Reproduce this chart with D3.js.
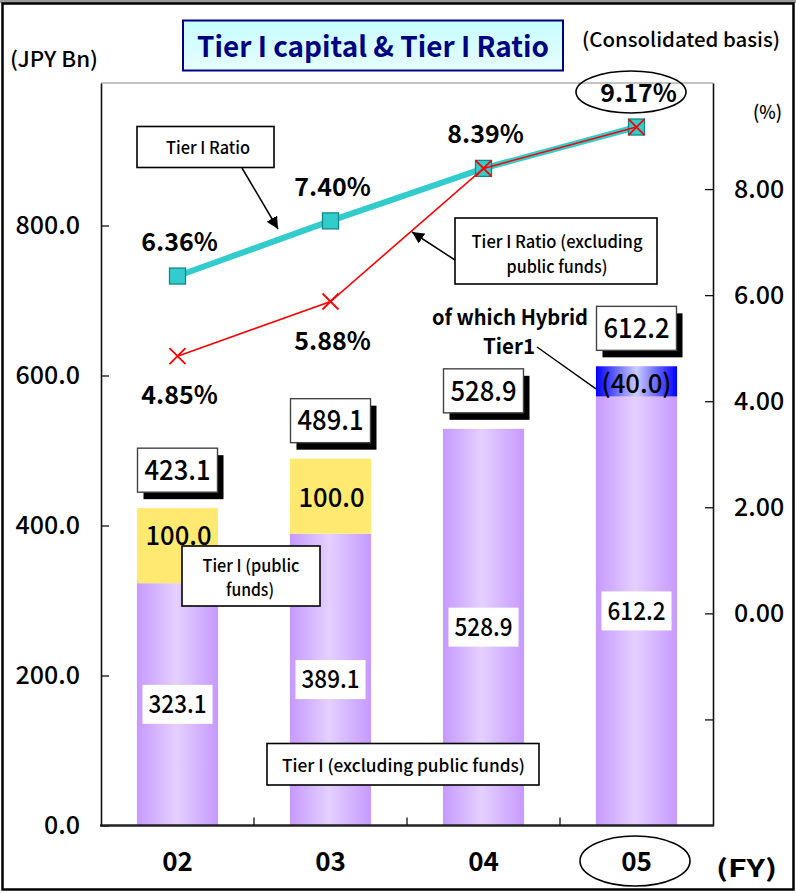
<!DOCTYPE html>
<html>
<head>
<meta charset="utf-8">
<script src="https://cdn.jsdelivr.net/npm/d3@7"></script>
<style>
  body { margin: 0; background: #fff; }
  svg { display: block; }
</style>
</head>
<body>
<div id="chart"></div>
<script>
// Fiscal years
const years = ["02", "03", "04", "05"];
// Tier I capital, JPY Bn
const tierIExclPublic = [323.1, 389.1, 528.9, 612.2];
const tierIPublic = [100.0, 100.0, 0, 0];
const hybridTier1 = [0, 0, 0, 40.0];
const tierITotal = [423.1, 489.1, 528.9, 612.2];
// Tier I ratio, %
const tierIRatio = [6.36, 7.40, 8.39, 9.17];
const tierIRatioExclPublic = [4.85, 5.88, 8.39, 9.17];
// Axis ticks
const leftTicks = [0, 200, 400, 600, 800];
const rightTicks = [-2, 0, 2, 4, 6, 8];
const rightTickLabels = [0, 2, 4, 6, 8];

const W = 796, H = 893;
const FONT = "'Noto Sans CJK JP', 'Noto Sans', sans-serif";
const plot = { left: 101, right: 713, top: 83, bottom: 825.5 };

const svg = d3.select("#chart").append("svg")
  .attr("width", W).attr("height", H).attr("viewBox", `0 0 ${W} ${H}`);

const defs = svg.append("defs");
function hGrad(id, stops) {
  const g = defs.append("linearGradient").attr("id", id)
    .attr("x1", "0%").attr("x2", "100%").attr("y1", "0%").attr("y2", "0%");
  stops.forEach(([o, c]) => g.append("stop").attr("offset", o).attr("stop-color", c));
}
hGrad("gPurple", [["0%", "#C799FF"], ["48%", "#E4D0FF"], ["100%", "#C799FF"]]);
hGrad("gBlue", [["0%", "#0000FF"], ["50%", "#CDCDFF"], ["100%", "#0000FF"]]);
const tg = defs.append("linearGradient").attr("id", "gTitle")
  .attr("x1", "0%").attr("x2", "0%").attr("y1", "0%").attr("y2", "100%");
tg.append("stop").attr("offset", "0%").attr("stop-color", "#C6FCFF");
tg.append("stop").attr("offset", "100%").attr("stop-color", "#E6FEFF");
defs.append("marker").attr("id", "arrow")
  .attr("viewBox", "0 0 10 10").attr("refX", 10).attr("refY", 5)
  .attr("markerWidth", 12).attr("markerHeight", 12)
  .attr("markerUnits", "userSpaceOnUse").attr("orient", "auto")
  .append("path").attr("d", "M0,0 L10,5 L0,10 z").attr("fill", "#000");

function label(g, str, x, y, o = {}) {
  const t = g.append("text")
    .attr("x", x).attr("y", y).attr("dy", o.dy || "0.35em")
    .attr("font-family", FONT)
    .attr("font-size", o.size || 20)
    .attr("font-weight", o.weight || 500)
    .attr("text-anchor", o.anchor || "middle")
    .attr("fill", o.fill || "#000")
    .text(str);
  if (o.width) t.attr("textLength", o.width).attr("lengthAdjust", "spacingAndGlyphs");
  return t;
}

// Outer frame
svg.append("rect").attr("x", 0).attr("y", 0).attr("width", W).attr("height", 3).attr("fill", "#9a9a9a");
svg.append("rect").attr("x", 2.5).attr("y", 3.5).attr("width", 791).attr("height", 886)
  .attr("fill", "#fff").attr("stroke", "#000").attr("stroke-width", 2.5);

// Scales
const x = d3.scaleBand().domain(years)
  .range([plot.left, plot.right]).paddingInner(0.47).paddingOuter(0.235);
const cx = d => x(d) + x.bandwidth() / 2;
const yL = d3.scaleLinear().domain([0, 990]).range([plot.bottom, plot.top]);
const yR = d3.scaleLinear().domain([-4, 10]).range([plot.bottom, plot.top]);

// Plot frame top
svg.append("line").attr("x1", plot.left).attr("x2", plot.right)
  .attr("y1", plot.top).attr("y2", plot.top).attr("stroke", "#888").attr("stroke-width", 1.2);

// Bars
const bars = svg.append("g");
years.forEach((yr, i) => {
  const base = tierIExclPublic[i];
  bars.append("rect").attr("x", x(yr)).attr("width", x.bandwidth())
    .attr("y", yL(base)).attr("height", yL(0) - yL(base)).attr("fill", "url(#gPurple)");
  if (tierIPublic[i] > 0) {
    bars.append("rect").attr("x", x(yr)).attr("width", x.bandwidth())
      .attr("y", yL(base + tierIPublic[i])).attr("height", yL(base) - yL(base + tierIPublic[i]))
      .attr("fill", "#FFE970");
  }
  if (hybridTier1[i] > 0) {
    bars.append("rect").attr("x", x(yr)).attr("width", x.bandwidth())
      .attr("y", yL(base)).attr("height", yL(base - hybridTier1[i]) - yL(base))
      .attr("fill", "url(#gBlue)");
  }
});

// Axes
const axL = svg.append("g").attr("transform", `translate(${plot.left},0)`)
  .call(d3.axisLeft(yL).tickValues(leftTicks).tickSizeInner(-8).tickSizeOuter(0)
    .tickPadding(21).tickFormat(d3.format(".1f")));
const axR = svg.append("g").attr("transform", `translate(${plot.right},0)`)
  .call(d3.axisRight(yR).tickValues(rightTicks).tickSizeInner(-8).tickSizeOuter(0)
    .tickPadding(21).tickFormat(d => rightTickLabels.includes(d) ? d3.format(".2f")(d) : ""));
[axL, axR].forEach(a => {
  a.select(".domain").attr("stroke", "#111").attr("stroke-width", 1.6);
  a.selectAll(".tick line").attr("stroke", "#111").attr("stroke-width", 1.3);
  a.selectAll(".tick text").attr("font-family", FONT).attr("font-size", 25)
    .attr("font-weight", 500).attr("fill", "#000");
});

// Category axis
const axB = svg.append("g");
axB.append("line").attr("x1", plot.left - 1).attr("x2", plot.right + 1)
  .attr("y1", plot.bottom).attr("y2", plot.bottom).attr("stroke", "#222").attr("stroke-width", 2.6);
const gap = x.step() - x.bandwidth();
years.slice(1).forEach(yr => {
  const bx = x(yr) - gap / 2;
  axB.append("line").attr("x1", bx).attr("x2", bx)
    .attr("y1", plot.bottom).attr("y2", plot.bottom - 8).attr("stroke", "#111").attr("stroke-width", 1.3);
});
years.forEach(yr => label(axB, yr, cx(yr), 862, { size: 26, weight: 700 }));

// Values inside the bars
const inner = svg.append("g");
years.forEach((yr, i) => {
  const mid = yL((tierIExclPublic[i] - hybridTier1[i]) / 2);
  inner.append("rect").attr("x", cx(yr) - 35).attr("y", mid - 19.5)
    .attr("width", 70).attr("height", 39).attr("fill", "#fff");
  label(inner, d3.format(".1f")(tierIExclPublic[i]), cx(yr), mid, { size: 25, width: 58 });
  if (tierIPublic[i] > 0) {
    const nudge = i === 0 ? -10 : 2;
    const ym = yL(tierIExclPublic[i] + tierIPublic[i] / 2) + nudge;
    label(inner, d3.format(".1f")(tierIPublic[i]), cx(yr) + 1, ym, { size: 26, width: 66 });
  }
  if (hybridTier1[i] > 0) {
    const ym = yL(tierIExclPublic[i] - hybridTier1[i] / 2) + 3;
    label(inner, `(${d3.format(".1f")(hybridTier1[i])})`, cx(yr), ym, { size: 26, width: 70 });
  }
});

// Totals above the bars, in shadowed boxes
const totals = svg.append("g");
years.forEach((yr, i) => {
  const bottom = yL(tierITotal[i]) - 16;
  const bx = cx(yr) - 40, by = bottom - 44;
  totals.append("rect").attr("x", bx + 6).attr("y", by + 7).attr("width", 80).attr("height", 44).attr("fill", "#000");
  totals.append("rect").attr("x", bx).attr("y", by).attr("width", 80).attr("height", 44)
    .attr("fill", "#fff").attr("stroke", "#444").attr("stroke-width", 1.4);
  label(totals, d3.format(".1f")(tierITotal[i]), cx(yr), by + 22, { size: 28, width: 66 });
});

// Ratio lines
const lines = svg.append("g");
const lineGen = d3.line().x((d, i) => cx(years[i])).y(d => yR(d));
lines.append("path").attr("d", lineGen(tierIRatio))
  .attr("fill", "none").attr("stroke", "#33CCCC").attr("stroke-width", 6);
tierIRatio.forEach((v, i) => {
  lines.append("rect").attr("x", cx(years[i]) - 8).attr("y", yR(v) - 8)
    .attr("width", 16).attr("height", 16)
    .attr("fill", "#33CCCC").attr("stroke", "#118888").attr("stroke-width", 1.3);
});
lines.append("path").attr("d", lineGen(tierIRatioExclPublic))
  .attr("fill", "none").attr("stroke", "#FF0000").attr("stroke-width", 1.6);
tierIRatioExclPublic.forEach((v, i) => {
  const px = cx(years[i]), py = yR(v), s = 8;
  lines.append("path")
    .attr("d", `M${px - s},${py - s}L${px + s},${py + s}M${px - s},${py + s}L${px + s},${py - s}`)
    .attr("stroke", "#FF0000").attr("stroke-width", 1.8).attr("fill", "none");
});

// Ratio value labels
const pctLabels = svg.append("g");
tierIRatio.forEach((v, i) => {
  label(pctLabels, d3.format(".2f")(v) + "%", cx(years[i]) + 2, yR(v) - 25, { size: 25, weight: 700, dy: "0" });
});
tierIRatioExclPublic.forEach((v, i) => {
  if (v === tierIRatio[i]) return;
  label(pctLabels, d3.format(".2f")(v) + "%", cx(years[i]) + 2, yR(v) + 48, { size: 25, weight: 700, dy: "0" });
});

// Title and unit notes
const head = svg.append("g");
head.append("rect").attr("x", 183).attr("y", 20.5).attr("width", 380).attr("height", 50)
  .attr("fill", "url(#gTitle)").attr("stroke", "#000080").attr("stroke-width", 2);
label(head, "Tier I capital & Tier I Ratio", 373, 47, { size: 28, weight: 700, fill: "#000080", width: 352 });
label(head, "(JPY Bn)", 10, 60, { size: 21, anchor: "start", width: 88 });
label(head, "(Consolidated basis)", 582, 40, { size: 20, anchor: "start", width: 198 });
label(head, "(%)", 753, 112, { size: 19, anchor: "start", width: 29 });
label(head, "(FY)", 716, 869, { size: 24, weight: 700, anchor: "start", width: 61 });

// Highlight ellipses
svg.append("ellipse").attr("cx", 631).attr("cy", 92).attr("rx", 55).attr("ry", 21)
  .attr("fill", "none").attr("stroke", "#000").attr("stroke-width", 1.6);
svg.append("ellipse").attr("cx", 635).attr("cy", 861).attr("rx", 55).attr("ry", 25)
  .attr("fill", "none").attr("stroke", "#000").attr("stroke-width", 1.6);

// Callouts
const notes = svg.append("g");
function box(x0, y0, w, h) {
  notes.append("rect").attr("x", x0).attr("y", y0).attr("width", w).attr("height", h)
    .attr("fill", "#fff").attr("stroke", "#000").attr("stroke-width", 1.6);
}
box(137, 126.5, 137, 41);
label(notes, "Tier I Ratio", 208, 148, { size: 17, width: 84 });
notes.append("line").attr("x1", 242).attr("y1", 168).attr("x2", 278).attr("y2", 229)
  .attr("stroke", "#000").attr("stroke-width", 1.5).attr("marker-end", "url(#arrow)");

box(455, 218, 202, 66);
label(notes, "Tier I Ratio (excluding", 557, 242, { size: 17, width: 171 });
label(notes, "public funds)", 557, 267, { size: 17, width: 101 });
notes.append("line").attr("x1", 455).attr("y1", 260).attr("x2", 412).attr("y2", 232)
  .attr("stroke", "#000").attr("stroke-width", 1.5).attr("marker-end", "url(#arrow)");

box(182, 546, 138, 60);
label(notes, "Tier I (public", 251, 566, { size: 17, width: 97 });
label(notes, "funds)", 250, 590, { size: 17, width: 48 });

box(267, 743.5, 272, 41.5);
label(notes, "Tier I (excluding public funds)", 403.5, 766, { size: 17, width: 243 });

label(notes, "of which Hybrid", 510, 318, { size: 21, weight: 700, width: 156 });
label(notes, "Tier1", 509, 347, { size: 21, weight: 700, width: 52 });
notes.append("line").attr("x1", 537).attr("y1", 347)
  .attr("x2", x("05")).attr("y2", yL(tierIExclPublic[3] - hybridTier1[3] * 0.75))
  .attr("stroke", "#000").attr("stroke-width", 1.4);
</script>
</body>
</html>
